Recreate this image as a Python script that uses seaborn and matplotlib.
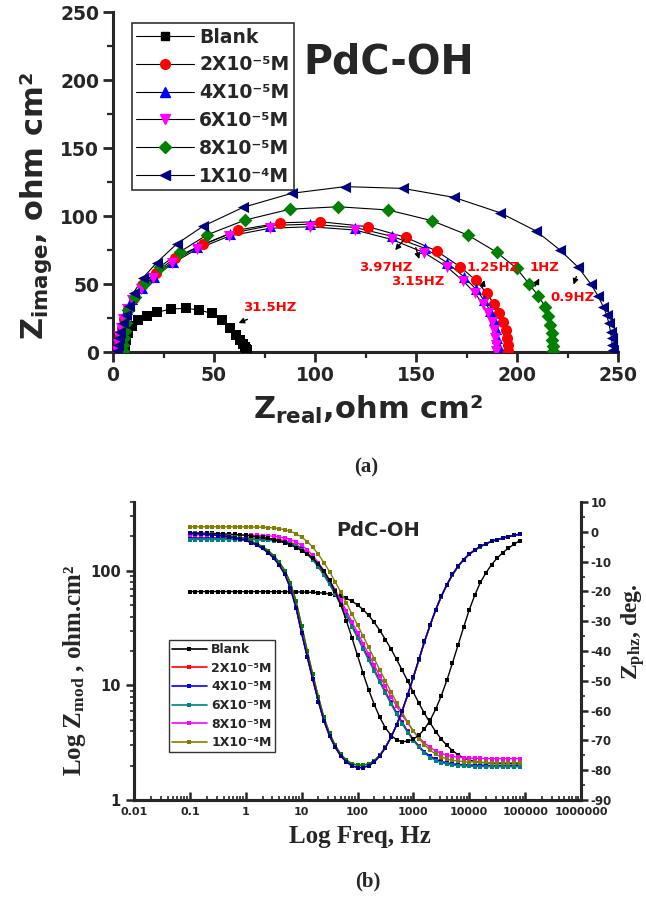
import matplotlib
matplotlib.use("Agg")
import matplotlib.pyplot as plt
from matplotlib.lines import Line2D
from matplotlib.ticker import MultipleLocator, FixedLocator, FixedFormatter, LogLocator, NullFormatter
import pandas as pd
import seaborn as sns

# ---------------- data ----------------
CONCS = ["Blank", "2X10⁻⁵M", "4X10⁻⁵M", "6X10⁻⁵M", "8X10⁻⁵M", "1X10⁻⁴M"]

# Nyquist (a)
NYQ_BLANK_X = [5.6, 5.9, 6.5, 7.6, 9.4, 12.4, 16.6, 21.9, 28.5, 36.1, 42.7, 48.9, 53.8, 57.9, 60.8, 62.9, 64.3, 65.2, 65.8, 66.1, 66.3]
NYQ_BLANK_Y = [0.5, 4.5, 9.0, 14.0, 19.0, 23.5, 26.7, 29.2, 31.6, 32.1, 30.9, 28.4, 23.5, 17.4, 12.5, 8.5, 6.0, 4.0, 2.5, 1.2, 0.3]
NYQ_2E5_X = [2.5, 2.8, 3.4, 4.3, 5.6, 7.4, 10.2, 14.6, 21.3, 30.7, 44.7, 62.0, 82.7, 102.5, 126.4, 145.0, 160.2, 171.8, 179.5, 185.0, 188.6, 191.3, 193.2, 194.4, 195.1, 195.5, 195.7]
NYQ_2E5_Y = [0.5, 6.0, 12.0, 18.0, 24.5, 31.5, 39.5, 49.0, 58.3, 69.3, 79.2, 89.7, 95.0, 95.8, 92.1, 84.3, 74.3, 62.7, 52.9, 43.2, 35.3, 28.4, 22.3, 16.0, 10.0, 5.0, 1.0]
NYQ_4E5_X = [2.2, 2.5, 3.1, 4.0, 5.2, 6.9, 9.4, 14.2, 20.2, 29.6, 41.6, 57.8, 77.9, 97.7, 120.0, 138.2, 154.5, 165.5, 173.6, 179.8, 183.7, 186.6, 188.6, 189.7, 190.3, 190.6, 190.8]
NYQ_4E5_Y = [0.5, 6.0, 12.0, 18.0, 24.5, 31.5, 38.8, 47.0, 55.5, 66.5, 77.0, 87.0, 93.0, 94.0, 91.5, 85.0, 76.2, 65.5, 55.5, 46.0, 38.0, 30.5, 23.5, 17.0, 10.5, 5.0, 1.0]
NYQ_6E5_X = [2.0, 2.3, 2.9, 3.8, 5.0, 6.7, 9.6, 14.0, 20.0, 29.4, 41.4, 57.6, 77.7, 97.5, 119.8, 137.9, 154.1, 165.2, 173.4, 179.2, 183.0, 185.8, 187.6, 188.6, 189.1, 189.4, 189.5]
NYQ_6E5_Y = [0.5, 6.0, 12.0, 18.0, 24.5, 31.5, 38.5, 46.5, 54.2, 65.2, 75.5, 85.3, 91.0, 92.1, 89.7, 82.8, 73.0, 62.7, 52.2, 43.2, 35.3, 28.4, 22.0, 16.0, 10.0, 5.0, 1.0]
NYQ_8E5_X = [4.9, 5.0, 5.3, 5.8, 6.5, 7.6, 10.9, 15.8, 23.3, 33.2, 46.4, 65.3, 87.6, 111.5, 136.3, 157.8, 175.9, 190.0, 199.8, 206.0, 210.6, 213.9, 215.5, 216.5, 217.1, 217.5, 217.7, 217.8]
NYQ_8E5_Y = [0.5, 5.0, 10.0, 15.5, 21.0, 30.6, 40.7, 51.0, 62.7, 73.7, 86.0, 97.0, 105.0, 106.8, 104.4, 96.6, 85.8, 73.3, 61.5, 50.0, 41.2, 33.3, 26.5, 20.0, 14.0, 9.0, 4.5, 1.0]
NYQ_1E4_X = [2.0, 2.3, 2.8, 3.6, 4.8, 6.2, 7.8, 10.2, 14.7, 21.6, 31.5, 44.7, 64.5, 88.5, 114.9, 143.4, 168.8, 191.6, 209.4, 221.3, 230.3, 236.5, 240.2, 242.7, 244.4, 245.5, 246.3, 246.8, 247.1, 247.3]
NYQ_1E4_Y = [0.5, 5.0, 10.0, 15.0, 21.0, 27.0, 34.0, 43.6, 54.2, 65.7, 79.4, 92.6, 106.4, 116.7, 121.6, 120.3, 113.7, 102.4, 89.0, 75.0, 62.3, 50.0, 41.0, 33.3, 27.2, 21.0, 15.0, 10.0, 5.5, 1.5]

FREQ_LABELS = ["31.5HZ", "3.97HZ", "3.15HZ", "1.25HZ", "1HZ", "0.9HZ"]
FREQ_LABEL_POS = [(64.4, 33.0), (121.8, 62.5), (137.9, 51.7), (175.1, 62.5), (206.4, 62.5), (216.3, 40.0)]
ARROW_TAILS = [(67.8, 24.8), (145.0, 84.3), (149.5, 78.7), (182.5, 45.6), (208.4, 46.8), (229.8, 57.4)]
ARROW_HEADS = [(60.9, 20.5), (138.8, 73.3), (152.0, 66.4), (184.2, 54.9), (211.7, 55.9), (227.6, 47.6)]

# Bode (b)
FREQ = [0.1, 0.126, 0.158, 0.2, 0.251, 0.316, 0.398, 0.501, 0.631, 0.794,
        1, 1.26, 1.58, 2, 2.51, 3.16, 3.98, 5.01, 6.31, 7.94,
        10, 12.6, 15.8, 20, 25.1, 31.6, 39.8, 50.1, 63.1, 79.4,
        100, 126, 158, 200, 251, 316, 398, 501, 631, 794,
        1000, 1260, 1580, 2000, 2510, 3160, 3980, 5010, 6310, 7940,
        10000, 12600, 15800, 20000, 25100, 31600, 39800, 50100, 63100, 79400]

ZMOD_BLANK = [66.1, 66.1, 66.1, 66.1, 66.1, 66.1, 66.1, 66.1, 66.0, 66.0,
              66.0, 66.0, 66.0, 66.0, 66.0, 65.9, 65.9, 65.8, 65.8, 65.7,
              65.5, 65.3, 65.0, 64.6, 64.0, 63.1, 61.8, 60.0, 57.6, 54.5,
              50.5, 46.0, 41.0, 35.5, 30.2, 25.2, 20.8, 16.9, 13.6, 10.9,
              8.7, 7.0, 5.7, 4.7, 3.95, 3.4, 3.0, 2.7, 2.48, 2.33,
              2.23, 2.17, 2.13, 2.11, 2.10, 2.09, 2.08, 2.08, 2.07, 2.07]
ZMOD_2E5 = [195.0, 195.0, 195.0, 195.0, 194.9, 194.9, 194.9, 194.8, 194.8, 194.7,
            194.5, 194.2, 193.8, 193.0, 191.9, 190.2, 187.6, 183.6, 177.8, 169.6,
            158.7, 144.9, 129.3, 111.9, 95.0, 79.0, 64.8, 52.5, 42.3, 33.9,
            27.1, 21.6, 17.3, 13.8, 11.05, 8.86, 7.14, 5.80, 4.77, 3.98,
            3.38, 2.95, 2.63, 2.41, 2.27, 2.17, 2.11, 2.07, 2.05, 2.03,
            2.02, 2.01, 2.01, 2.0, 2.0, 2.0, 2.0, 2.0, 2.0, 2.0]
ZMOD_4E5 = [190.0, 190.0, 190.0, 190.0, 189.9, 189.9, 189.9, 189.8, 189.8, 189.7,
            189.5, 189.2, 188.8, 188.0, 187.0, 185.3, 182.7, 178.9, 173.2, 165.2,
            154.6, 141.1, 126.0, 109.0, 92.5, 77.0, 63.1, 51.2, 41.2, 33.1,
            26.4, 21.1, 16.9, 13.5, 10.8, 8.66, 7.00, 5.70, 4.70, 3.93,
            3.35, 2.93, 2.62, 2.40, 2.26, 2.16, 2.10, 2.06, 2.04, 2.03,
            2.02, 2.01, 2.01, 2.0, 2.0, 2.0, 2.0, 2.0, 2.0, 2.0]
ZMOD_6E5 = [188.0, 188.0, 188.0, 188.0, 187.9, 187.9, 187.9, 187.8, 187.8, 187.7,
            187.5, 187.2, 186.8, 186.0, 185.0, 183.3, 180.8, 177.0, 171.4, 163.5,
            153.0, 139.7, 124.6, 107.8, 91.5, 76.2, 62.4, 50.6, 40.8, 32.7,
            26.1, 20.8, 16.7, 13.3, 10.7, 8.55, 6.90, 5.60, 4.62, 3.87,
            3.30, 2.88, 2.56, 2.35, 2.21, 2.12, 2.06, 2.02, 2.00, 1.98,
            1.97, 1.96, 1.96, 1.95, 1.95, 1.95, 1.95, 1.95, 1.95, 1.95]
ZMOD_8E5 = [206.0, 206.0, 206.0, 206.0, 205.9, 205.9, 205.9, 205.8, 205.7, 205.6,
            205.4, 205.1, 204.6, 203.7, 202.6, 200.7, 198.0, 193.8, 187.7, 179.0,
            167.5, 153.0, 136.5, 118.1, 100.3, 83.5, 68.5, 55.6, 44.9, 36.1,
            29.0, 23.2, 18.7, 15.0, 12.1, 9.80, 8.00, 6.60, 5.50, 4.70,
            4.00, 3.52, 3.15, 2.88, 2.68, 2.55, 2.46, 2.40, 2.36, 2.34,
            2.32, 2.31, 2.31, 2.30, 2.30, 2.30, 2.30, 2.30, 2.30, 2.30]
ZMOD_1E4 = [243.1, 243.1, 243.1, 243.1, 243.1, 243.0, 243.0, 243.0, 242.8, 242.7,
            242.5, 242.2, 241.6, 240.7, 239.3, 237.1, 233.8, 229.0, 221.7, 211.4,
            197.8, 180.7, 161.3, 139.5, 118.4, 98.6, 80.7, 65.5, 52.7, 42.2,
            33.8, 27.0, 21.6, 17.1, 13.7, 10.96, 8.80, 7.10, 5.80, 4.77,
            4.00, 3.43, 3.03, 2.72, 2.51, 2.38, 2.28, 2.22, 2.19, 2.16,
            2.15, 2.14, 2.13, 2.13, 2.12, 2.12, 2.12, 2.12, 2.12, 2.12]

PHZ_BLANK = [-0.3, -0.35, -0.4, -0.5, -0.55, -0.6, -0.7, -0.8, -0.9, -1.0,
             -1.2, -1.4, -1.6, -1.9, -2.2, -2.6, -3.1, -3.7, -4.4, -5.3,
             -6.3, -7.5, -8.9, -10.8, -13.2, -16.3, -20.0, -24.5, -29.8, -35.5,
             -41.5, -47.5, -53.0, -58.0, -62.3, -65.8, -68.3, -69.8, -70.4, -70.3,
             -69.6, -68.2, -66.2, -63.2, -59.5, -55.0, -49.8, -44.0, -38.0, -32.0,
             -26.2, -21.2, -17.0, -13.7, -11.0, -8.8, -7.0, -5.5, -4.2, -3.0]
# 2X10-5 and 6X10-5 phase
PHZ_A = [-0.4, -0.5, -0.6, -0.7, -0.9, -1.1, -1.3, -1.5, -1.8, -2.2,
         -2.6, -3.2, -4.0, -5.0, -6.3, -8.0, -10.2, -13.0, -17.2, -23.2,
         -31.5, -40.0, -47.8, -55.5, -62.3, -67.6, -71.6, -74.6, -76.6, -77.8,
         -78.3, -78.3, -77.9, -76.8, -74.9, -72.2, -68.9, -64.8, -60.1, -54.8,
         -48.9, -42.9, -37.0, -31.4, -26.3, -21.8, -17.9, -14.5, -11.7, -9.4,
         -7.6, -6.2, -5.0, -4.0, -3.2, -2.6, -2.1, -1.6, -1.2, -0.8]
# 4X10-5, 8X10-5 and 1X10-4 phase
PHZ_B = [-0.5, -0.6, -0.7, -0.8, -1.0, -1.2, -1.4, -1.7, -2.0, -2.4,
         -2.9, -3.6, -4.5, -5.6, -7.0, -8.8, -11.2, -14.3, -19.0, -25.5,
         -34.0, -42.0, -49.5, -57.0, -63.5, -68.5, -72.3, -75.2, -77.2, -78.5,
         -79.1, -79.1, -78.5, -77.2, -75.2, -72.4, -69.0, -64.8, -60.0, -54.6,
         -48.7, -42.7, -36.8, -31.2, -26.1, -21.6, -17.7, -14.3, -11.5, -9.3,
         -7.5, -6.1, -4.9, -4.0, -3.2, -2.6, -2.1, -1.6, -1.2, -0.8]

XT_VALUES = [0.01, 0.1, 1, 10, 100, 1000, 10000, 100000, 1000000]
XT_LABELS = ["0.01", "0.1", "1", "10", "100", "1000", "10000", "100000", "1000000"]

# ---------------- styles ----------------
NYQ_COLORS = ["black", "red", "blue", "magenta", "#008000", "#000080"]
NYQ_MARKERS = ["s", "o", "^", "v", "D", "<"]
NYQ_SIZES = [7, 8, 8, 8, 7, 8]
ZMOD_COLORS = ["black", "red", "blue", "#008080", "magenta", "#808000"]
PHZ_COLORS = ["black", "red", "blue", "#008000", "magenta", "#000080"]

sns.set_style("ticks")
plt.rcParams["font.family"] = ["DejaVu Sans"]
plt.rcParams["font.weight"] = "bold"
plt.rcParams["axes.unicode_minus"] = False
plt.rcParams["mathtext.fontset"] = "custom"
plt.rcParams["mathtext.sf"] = "DejaVu Sans:bold"
plt.rcParams["mathtext.rm"] = "Liberation Serif:bold"
plt.rcParams["mathtext.bf"] = "Liberation Serif:bold"
plt.rcParams["mathtext.it"] = "Liberation Serif:bold:italic"

nyq_sets = [(NYQ_BLANK_X, NYQ_BLANK_Y), (NYQ_2E5_X, NYQ_2E5_Y), (NYQ_4E5_X, NYQ_4E5_Y),
            (NYQ_6E5_X, NYQ_6E5_Y), (NYQ_8E5_X, NYQ_8E5_Y), (NYQ_1E4_X, NYQ_1E4_Y)]
nyq = pd.concat([pd.DataFrame({"zre": xs, "zim": ys, "conc": c})
                 for c, (xs, ys) in zip(CONCS, nyq_sets)], ignore_index=True)

zmods = [ZMOD_BLANK, ZMOD_2E5, ZMOD_4E5, ZMOD_6E5, ZMOD_8E5, ZMOD_1E4]
phzs = [PHZ_BLANK, PHZ_A, PHZ_B, PHZ_A, PHZ_B, PHZ_B]
bode = pd.concat([pd.DataFrame({"freq": FREQ, "zmod": zm, "phz": ph, "conc": c})
                  for c, zm, ph in zip(CONCS, zmods, phzs)], ignore_index=True)

W, H = 646, 899
fig = plt.figure(figsize=(W / 100, H / 100), dpi=100)


def fx(px):
    return px / W


def fy(py):
    return 1 - py / H


# ---------------- (a) Nyquist ----------------
ax1 = fig.add_axes([fx(113), fy(352), (618 - 113) / W, (352 - 12) / H])
sns.lineplot(data=nyq, x="zre", y="zim", units="conc", estimator=None, sort=False,
             color="black", lw=0.8, legend=False, ax=ax1)
for c, col, m, ms in zip(CONCS, NYQ_COLORS, NYQ_MARKERS, NYQ_SIZES):
    sub = nyq[nyq["conc"] == c]
    sns.scatterplot(data=sub, x="zre", y="zim", color=col, marker=m, s=ms ** 2,
                    linewidth=0, legend=False, ax=ax1, zorder=3)

ax1.set_xlim(0, 250)
ax1.set_ylim(0, 250)
ax1.set_xlabel("")
ax1.set_ylabel("")
sns.despine(ax=ax1)
for s in ["left", "bottom"]:
    ax1.spines[s].set_linewidth(2.2)
ax1.xaxis.set_major_locator(MultipleLocator(50))
ax1.xaxis.set_minor_locator(MultipleLocator(25))
ax1.yaxis.set_major_locator(MultipleLocator(50))
ax1.yaxis.set_minor_locator(MultipleLocator(25))
ax1.tick_params(which="major", direction="out", length=7, width=2, labelsize=13.5, pad=3)
ax1.tick_params(which="minor", direction="out", length=4, width=1.6)

for lab, pos, tail, head in zip(FREQ_LABELS, FREQ_LABEL_POS, ARROW_TAILS, ARROW_HEADS):
    ax1.text(pos[0], pos[1], lab, color="red", fontsize=9.5, fontweight="bold",
             ha="left", va="center")
    ax1.annotate("", xy=head, xytext=tail,
                 arrowprops=dict(arrowstyle="-|>", color="black", lw=1.0, mutation_scale=8))

handles1 = [Line2D([], [], color="black", lw=0.8, marker=m, markersize=ms - 1,
                   markerfacecolor=col, markeredgecolor=col)
            for col, m, ms in zip(NYQ_COLORS, NYQ_MARKERS, NYQ_SIZES)]
leg1 = ax1.legend(handles1, CONCS, loc="upper left", bbox_to_anchor=(0.0376, 0.967),
                  borderaxespad=0, frameon=True, fancybox=False, edgecolor="black",
                  fontsize=13.5, handlelength=3.1, labelspacing=0.47, borderpad=0.23,
                  handletextpad=0.25)
leg1.get_frame().set_linewidth(1.2)

fig.text(fx(303), fy(62), "PdC-OH", fontsize=28.5, fontweight="bold", ha="left", va="center")
fig.text(fx(36), fy(206), r"$\mathsf{Z_{image}}$, ohm cm²", rotation=90, fontsize=22,
         fontweight="bold", ha="center", va="center")
fig.text(fx(368), fy(410), r"$\mathsf{Z_{real}}$,ohm cm²", fontsize=22,
         fontweight="bold", ha="center", va="center")
fig.text(fx(366), fy(467), "(a)", family="Liberation Serif", fontsize=15,
         fontweight="bold", ha="center", va="center")

# ---------------- (b) Bode ----------------
ax2 = fig.add_axes([fx(134), fy(800), (581 - 134) / W, (800 - 502) / H])
sns.lineplot(data=bode, x="freq", y="zmod", hue="conc", hue_order=CONCS, palette=ZMOD_COLORS,
             estimator=None, marker="s", markersize=2.3, markeredgewidth=0, lw=1.0,
             legend=False, ax=ax2)
ax2.set_xscale("log")
ax2.set_yscale("log")
ax2.set_xlim(0.01, 1000000)
ax2.set_ylim(1, 400)

axp = ax2.twinx()
sns.lineplot(data=bode, x="freq", y="phz", hue="conc", hue_order=CONCS, palette=PHZ_COLORS,
             estimator=None, marker="s", markersize=3.4, markeredgewidth=0, lw=1.0,
             legend=False, ax=axp)
axp.set_ylim(-90, 10)
axp.set_xlim(0.01, 1000000)

for a in (ax2, axp):
    a.set_xlabel("")
    a.set_ylabel("")
    a.spines["top"].set_visible(False)
    for s in ["left", "right", "bottom"]:
        a.spines[s].set_linewidth(2.2)

ax2.xaxis.set_major_locator(FixedLocator(XT_VALUES))
ax2.xaxis.set_major_formatter(FixedFormatter(XT_LABELS))
ax2.xaxis.set_minor_locator(LogLocator(base=10, subs=range(2, 10), numticks=20))
ax2.xaxis.set_minor_formatter(NullFormatter())
ax2.yaxis.set_major_locator(FixedLocator([1, 10, 100]))
ax2.yaxis.set_major_formatter(FixedFormatter(["1", "10", "100"]))
ax2.yaxis.set_minor_locator(LogLocator(base=10, subs=range(2, 10), numticks=20))
ax2.yaxis.set_minor_formatter(NullFormatter())
axp.yaxis.set_major_locator(MultipleLocator(10))
axp.yaxis.set_minor_locator(MultipleLocator(5))

ax2.tick_params(axis="x", which="major", direction="in", length=6, width=1.8, labelsize=8, pad=5)
ax2.tick_params(axis="x", which="minor", direction="in", length=3, width=1.2)
ax2.tick_params(axis="y", which="major", direction="out", length=6, width=1.8, labelsize=10.5)
ax2.tick_params(axis="y", which="minor", direction="out", length=3, width=1.2)
axp.tick_params(axis="y", which="major", direction="out", length=5, width=1.8, labelsize=8.5, pad=2)
axp.tick_params(axis="y", which="minor", direction="out", length=3, width=1.2)

handles2 = [Line2D([], [], color=col, lw=1.2, marker="s", markersize=2.5, markeredgewidth=0)
            for col in ZMOD_COLORS]
leg2 = axp.legend(handles2, CONCS, loc="upper left", bbox_to_anchor=(0.078, 0.537),
                  borderaxespad=0, frameon=True, fancybox=False, edgecolor="black",
                  fontsize=9, handlelength=2.8, labelspacing=0.45, borderpad=0.25,
                  handletextpad=0.35)
leg2.get_frame().set_linewidth(1.0)

fig.text(fx(378), fy(530), "PdC-OH", fontsize=14, fontweight="bold", ha="center", va="center")
fig.text(fx(75), fy(670), r"Log $\mathrm{Z_{mod}}$ , ohm.cm²", family="Liberation Serif",
         rotation=90, fontsize=18, fontweight="bold", ha="center", va="center")
fig.text(fx(633), fy(632), r"$\mathrm{Z_{phz}}$, deg.", family="Liberation Serif",
         rotation=90, fontsize=17, fontweight="bold", ha="center", va="center")
fig.text(fx(360), fy(837), "Log Freq, Hz", family="Liberation Serif", fontsize=18,
         fontweight="bold", ha="center", va="center")
fig.text(fx(368), fy(881), "(b)", family="Liberation Serif", fontsize=15,
         fontweight="bold", ha="center", va="center")

fig.savefig("out.png", dpi=100)
